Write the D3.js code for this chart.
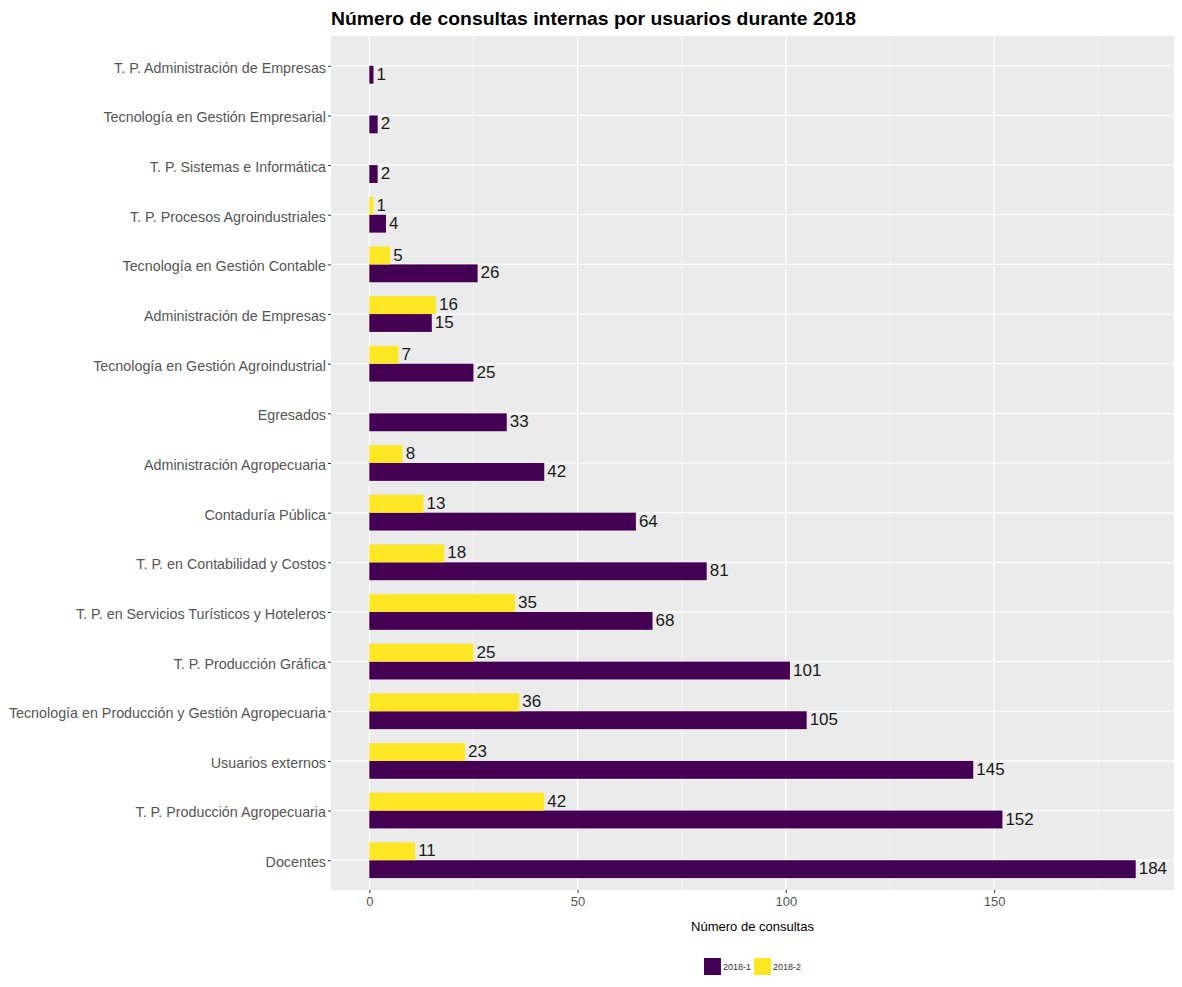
<!DOCTYPE html>
<html>
<head>
<meta charset="utf-8">
<script src="https://cdn.jsdelivr.net/npm/d3@7"></script>
<style>
  body { margin: 0; background: #fff; }
  svg { display: block; font-family: "Liberation Sans", Arial, sans-serif; }
</style>
</head>
<body>
<svg id="chart" width="1182" height="987"></svg>
<script>
// ---- Data ----
const categories = [
  "T. P. Administración de Empresas",
  "Tecnología en Gestión Empresarial",
  "T. P. Sistemas e Informática",
  "T. P. Procesos Agroindustriales",
  "Tecnología en Gestión Contable",
  "Administración de Empresas",
  "Tecnología en Gestión Agroindustrial",
  "Egresados",
  "Administración Agropecuaria",
  "Contaduría Pública",
  "T. P. en Contabilidad y Costos",
  "T. P. en Servicios Turísticos y Hoteleros",
  "T. P. Producción Gráfica",
  "Tecnología en Producción y Gestión Agropecuaria",
  "Usuarios externos",
  "T. P. Producción Agropecuaria",
  "Docentes"
];
const series = ["2018-1", "2018-2"];
const values2018_1 = [1, 2, 2, 4, 26, 15, 25, 33, 42, 64, 81, 68, 101, 105, 145, 152, 184];
const values2018_2 = [null, null, null, 1, 5, 16, 7, null, 8, 13, 18, 35, 25, 36, 23, 42, 11];
const xTicks = [0, 50, 100, 150];
const xMinorTicks = [25, 75, 125, 175];
const colors = ["#440154", "#FDE725"];
const title = "Número de consultas internas por usuarios durante 2018";
const xTitle = "Número de consultas";

// ---- Layout ----
const svg = d3.select("#chart");
const panel = { left: 331, right: 1174, top: 36, bottom: 890 };

const maxV = d3.max(values2018_1.concat(values2018_2.filter(v => v != null)));
const pad = maxV * 0.05;
const x = d3.scaleLinear().domain([-pad, maxV + pad]).range([panel.left, panel.right]);

const y = d3.scalePoint().domain(categories)
  .range([panel.top, panel.bottom]).padding(0.6);
const step = y.step();
const barTotal = step * 0.72;
const barH = barTotal / 2;

// panel background
svg.append("rect")
  .attr("x", panel.left).attr("y", panel.top)
  .attr("width", panel.right - panel.left).attr("height", panel.bottom - panel.top)
  .attr("fill", "#EBEBEB");

// minor gridlines
svg.append("g").selectAll("line").data(xMinorTicks).join("line")
  .attr("x1", d => x(d)).attr("x2", d => x(d))
  .attr("y1", panel.top).attr("y2", panel.bottom)
  .attr("stroke", "#fff").attr("stroke-width", 0.6);
// major gridlines
svg.append("g").selectAll("line").data(xTicks).join("line")
  .attr("x1", d => x(d)).attr("x2", d => x(d))
  .attr("y1", panel.top).attr("y2", panel.bottom)
  .attr("stroke", "#fff").attr("stroke-width", 1.2);
svg.append("g").selectAll("line").data(categories).join("line")
  .attr("x1", panel.left).attr("x2", panel.right)
  .attr("y1", d => y(d)).attr("y2", d => y(d))
  .attr("stroke", "#fff").attr("stroke-width", 1.2);

// bars
const rows = [];
categories.forEach((c, i) => {
  [values2018_1[i], values2018_2[i]].forEach((v, s) => {
    if (v == null) return;
    // 2018-2 in upper slot, 2018-1 in lower slot (position_dodge preserve single)
    const yTop = s === 0 ? y(c) : y(c) - barH;
    rows.push({ c, v, s, yTop });
  });
});

svg.append("g").selectAll("rect").data(rows).join("rect")
  .attr("x", x(0))
  .attr("y", d => d.yTop)
  .attr("width", d => x(d.v) - x(0))
  .attr("height", barH)
  .attr("fill", d => colors[d.s]);

svg.append("g").selectAll("text").data(rows).join("text")
  .attr("x", d => x(d.v) + 3)
  .attr("y", d => d.yTop + barH / 2)
  .attr("dy", "0.3em")
  .attr("font-size", 17)
  .attr("fill", "#1a1a1a")
  .text(d => d.v);

// y axis
const yAxis = d3.axisLeft(y).tickSize(3).tickPadding(2);
const gy = svg.append("g").attr("transform", `translate(${panel.left},0)`).call(yAxis);
gy.select(".domain").remove();
gy.selectAll(".tick line").attr("stroke", "#333");
gy.selectAll(".tick text").attr("font-size", 14.3).attr("fill", "#555")
  .attr("dy", "0.45em")
  .attr("font-family", "'Liberation Sans', Arial, sans-serif");

// x axis
const xAxis = d3.axisBottom(x).tickValues(xTicks).tickSize(3).tickPadding(4);
const gx = svg.append("g").attr("transform", `translate(0,${panel.bottom})`).call(xAxis);
gx.select(".domain").remove();
gx.selectAll(".tick line").attr("stroke", "#333");
gx.selectAll(".tick text").attr("font-size", 13).attr("fill", "#555")
  .attr("font-family", "'Liberation Sans', Arial, sans-serif");

// x title
svg.append("text")
  .attr("x", (panel.left + panel.right) / 2).attr("y", 931)
  .attr("text-anchor", "middle").attr("font-size", 13).attr("fill", "#000")
  .text(xTitle);

// title
svg.append("text")
  .attr("x", panel.left).attr("y", 25)
  .attr("font-size", 19).attr("font-weight", "bold").attr("fill", "#000")
  .attr("textLength", 525).attr("lengthAdjust", "spacingAndGlyphs")
  .text(title);

// legend
const legend = svg.append("g");
const keySize = 17;
let cx = 0;
series.forEach((s, i) => {
  const g = legend.append("g").attr("transform", `translate(${cx},0)`);
  g.append("rect").attr("width", keySize).attr("height", keySize).attr("fill", colors[i]);
  const t = g.append("text").attr("x", keySize + 2).attr("y", keySize / 2).attr("dy", "0.35em")
    .attr("font-size", 9).attr("fill", "#333").text(s);
  cx += keySize + 2 + t.node().getComputedTextLength() + 3;
});
const legW = cx - 3;
legend.attr("transform", `translate(${(panel.left + panel.right) / 2 - legW / 2},958)`);
</script>
</body>
</html>
